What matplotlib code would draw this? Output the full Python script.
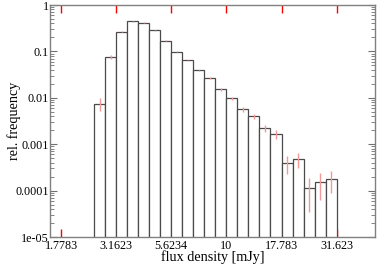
import numpy as np
import matplotlib
matplotlib.use("Agg")
import matplotlib.pyplot as plt
from matplotlib.ticker import FixedLocator, FixedFormatter, LogLocator, NullFormatter

# log10 bin edges of the flux histogram
log_edges = np.linspace(0.40, 1.50, 23)

rel_freq = [0.0075, 0.077, 0.266, 0.445, 0.416, 0.285, 0.170, 0.099, 0.064,
            0.039, 0.0263, 0.0152, 0.00975, 0.00574, 0.00403, 0.0022, 0.00165,
            0.000388, 0.000473, 0.000112, 0.000151, 0.000178]
rel_err = [0.0024, 0.007, 0.005, 0.006, 0.006, 0.0045, 0.0035, 0.0026, 0.002,
           0.0016, 0.0013, 0.001, 0.0008, 0.0007, 0.0005, 0.0004, 0.00035,
           0.00016, 0.00017, 0.000078, 0.000087, 0.000087]

xticks = [1.7783, 3.1623, 5.6234, 10, 17.783, 31.623]
xtick_labels = ["1.7783", "3.1623", "5.6234", "10", "17.783", "31.623"]
yticks = [1e-5, 1e-4, 1e-3, 1e-2, 1e-1, 1]
ytick_labels = ["1e-05", "0.0001", "0.001", "0.01", "0.1", "1"]

plt.rcParams["font.family"] = ["Liberation Serif", "DejaVu Serif"]

fig = plt.figure(figsize=(3.82, 2.65), dpi=100)
ax = fig.add_axes([50 / 382, 28 / 265, 325 / 382, 232 / 265])

edges = 10 ** log_edges
left = edges[:-1]
width = edges[1:] - edges[:-1]
centers = np.sqrt(edges[:-1] * edges[1:])

ax.bar(left, rel_freq, width=width, align="edge", bottom=1e-6,
       facecolor="white", edgecolor="#4a4a4a", linewidth=0.9, zorder=2)
ax.errorbar(centers, rel_freq, yerr=rel_err, fmt="none", ecolor="#f29a9a",
            elinewidth=1.0, capsize=0, zorder=3)

ax.set_xscale("log")
ax.set_yscale("log")
ax.set_xlim(10 ** 0.2, 10 ** 1.674)
ax.set_ylim(1e-5, 1)

ax.xaxis.set_major_locator(FixedLocator(xticks))
ax.xaxis.set_major_formatter(FixedFormatter(xtick_labels))
ax.xaxis.set_minor_locator(FixedLocator([]))
ax.yaxis.set_major_locator(FixedLocator(yticks))
ax.yaxis.set_major_formatter(FixedFormatter(ytick_labels))
ax.yaxis.set_minor_locator(LogLocator(base=10, subs=np.arange(2, 10)))
ax.yaxis.set_minor_formatter(NullFormatter())

ax.tick_params(axis="x", which="major", direction="in", top=True, bottom=True,
               length=6, width=1.0, color="red", labelsize=8.7, pad=2)
ax.tick_params(axis="y", which="major", direction="in", left=True, right=True,
               length=5, width=0.8, color="#707070", labelsize=8.7, pad=1)
ax.tick_params(axis="y", which="minor", direction="in", left=True, right=True,
               length=3, width=0.6, color="#707070")

for s in ax.spines.values():
    s.set_color("#808080")
    s.set_linewidth(1.0)

ax.set_xlabel("flux density [mJy]", fontsize=10.2, va="center")
ax.xaxis.set_label_coords(0.5, -0.088)
ax.set_ylabel("rel. frequency", fontsize=10.2, va="center")
ax.yaxis.set_label_coords(-0.11, 0.5)

fig.savefig("out.png", dpi=100)
